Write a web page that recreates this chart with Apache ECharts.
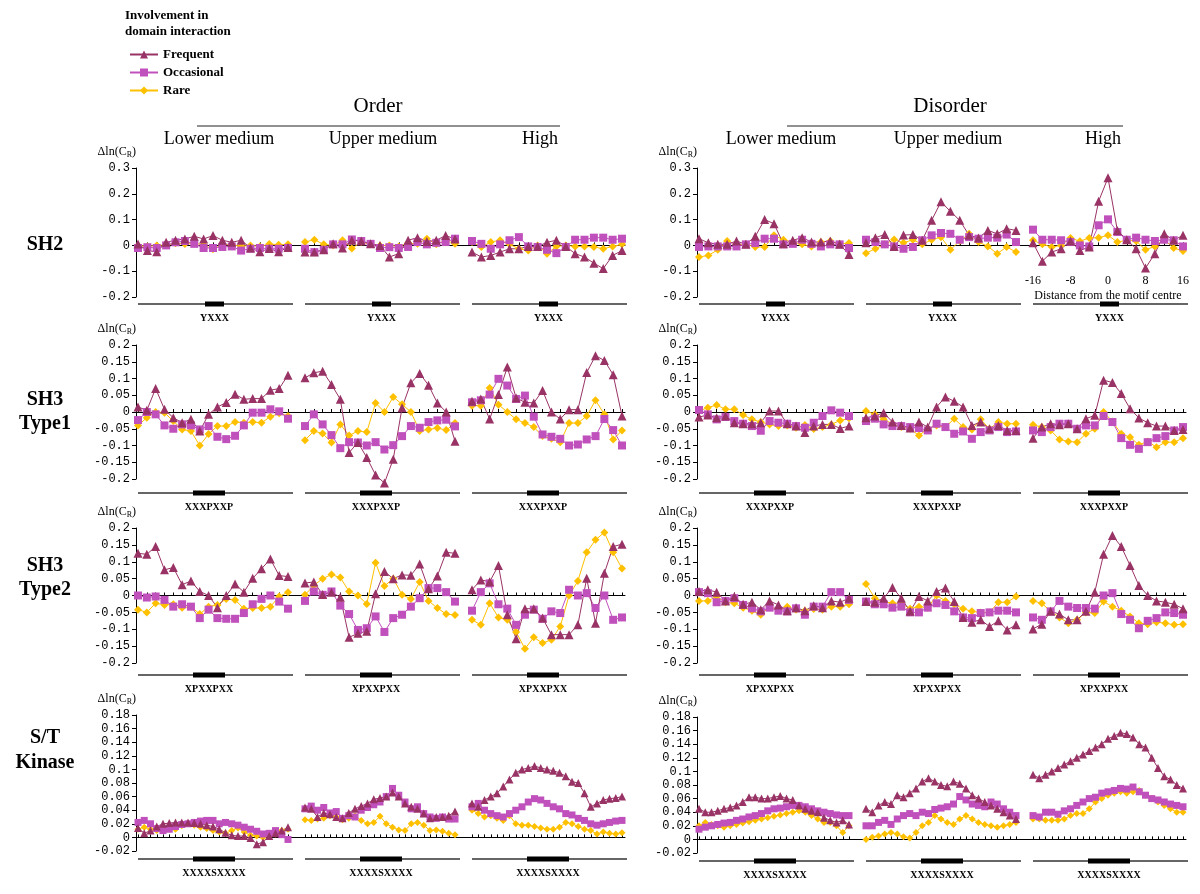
<!DOCTYPE html>
<html>
<head>
<meta charset="utf-8">
<script src="https://cdn.jsdelivr.net/npm/echarts@6/dist/echarts.min.js"></script>
<style>
  html, body { margin: 0; padding: 0; background: #fff; }
  #chart { width: 1200px; height: 894px; }
</style>
</head>
<body>
<div id="chart"></div>
<script>
"use strict";

//
// data
//

// distance from the motif centre, one entry per point
const pos_sh2 = [-16, -14, -12, -10, -8, -6, -4, -2, 0, 2, 4, 6, 8, 10, 12, 14, 16];
const pos_sh3 = [-17, -15, -13, -11, -9, -7, -5, -3, -1, 1, 3, 5, 7, 9, 11, 13, 15, 17];
const pos_kin = [-24, -22, -20, -18, -16, -14, -12, -10, -8, -6, -4, -2, 0, 2, 4, 6, 8, 10, 12, 14, 16, 18, 20, 22, 24];

const series_names = ["Frequent", "Occasional", "Rare"];
const group_titles = ["Order", "Disorder"];
const level_titles = ["Lower medium", "Upper medium", "High"];
const row_titles = [["SH2"], ["SH3", "Type1"], ["SH3", "Type2"], ["S/T", "Kinase"]];
const motifs = ["YXXX", "XXXPXXP", "XPXXPXX", "XXXXSXXXX"];
// y axis: min, max, step
const y_ranges = [[-0.2, 0.3, 0.1], [-0.2, 0.2, 0.05], [-0.2, 0.2, 0.05], [-0.02, 0.18, 0.02]];

// each panel: [frequent, occasional, rare]
const sh2_ord_low = [
  [0.005, -0.02, -0.025, 0.012, 0.02, 0.025, 0.035, 0.025, 0.038, 0.02, 0.012, 0.02, -0.01, -0.025, -0.012, -0.025, -0.008],
  [-0.01, -0.007, -0.01, 0, 0.012, 0.017, 0.006, -0.01, -0.01, -0.006, -0.004, -0.02, -0.013, -0.01, -0.013, -0.013, -0.01],
  [0, -0.004, 0, 0.002, 0.008, 0.005, 0.008, 0.003, -0.015, 0.004, 0.002, -0.003, 0, -0.004, 0.005, 0.003, 0.004],
];
const sh2_ord_up = [
  [-0.026, -0.026, -0.017, 0.006, -0.01, 0.02, 0.017, 0.006, 0, -0.045, -0.032, 0.02, 0.03, 0.015, 0.02, 0.038, 0.025],
  [-0.013, -0.026, -0.017, 0.004, 0.004, 0.023, 0.017, 0.006, -0.01, -0.007, -0.01, -0.006, 0.013, 0.004, 0.01, 0.013, 0.026],
  [0.013, 0.022, 0.004, 0, 0.02, -0.012, 0.013, 0.004, 0, 0, -0.004, 0.009, 0.006, 0.026, 0.004, 0.02, 0.006],
];
const sh2_ord_high = [
  [-0.026, -0.045, -0.039, -0.026, -0.013, -0.013, -0.004, -0.004, 0.012, 0.02, -0.004, -0.032, -0.045, -0.069, -0.09, -0.039, -0.02],
  [0.017, 0.006, -0.013, 0.004, 0.02, 0.032, -0.004, -0.006, -0.017, -0.03, -0.006, 0.022, 0.022, 0.03, 0.03, 0.022, 0.026],
  [0.013, -0.006, 0.013, 0.02, 0.004, -0.013, -0.02, 0, -0.032, -0.004, 0, -0.004, -0.004, -0.006, -0.013, -0.004, 0.004],
];
const sh2_dis_low = [
  [0.026, 0.01, 0.004, 0.004, 0.017, 0.004, 0.035, 0.1, 0.084, 0.006, 0.02, 0.03, 0.013, 0.013, 0.017, 0.004, -0.035],
  [-0.006, -0.004, -0.004, -0.004, -0.004, 0.004, 0.009, 0.026, 0.026, 0.004, 0.006, 0.022, 0.006, -0.004, 0.004, 0.004, -0.01],
  [-0.045, -0.039, -0.017, 0.017, 0.004, 0.004, -0.006, -0.006, 0.039, 0.022, 0.013, 0.004, -0.004, 0.013, 0.017, 0.006, 0.009],
];
const sh2_dis_up = [
  [0.01, 0.03, 0.042, -0.004, 0.04, 0.042, 0.02, 0.097, 0.169, 0.132, 0.097, 0.039, 0.029, 0.058, 0.045, 0.065, 0.058],
  [0.022, 0.013, 0.004, -0.004, -0.013, -0.006, 0.02, 0.039, 0.048, 0.045, 0.022, 0.032, 0.026, 0.03, 0.03, 0.042, 0.013],
  [-0.03, -0.013, 0.004, 0.023, 0.01, 0.022, 0.004, 0.022, 0.032, -0.017, 0.017, 0.045, 0.013, -0.004, -0.032, -0.006, -0.026],
];
const sh2_dis_high = [
  [0.01, -0.061, -0.026, -0.013, 0.017, -0.02, -0.006, 0.171, 0.262, 0.058, 0.022, -0.013, -0.088, -0.032, 0.045, 0.02, 0.039],
  [0.061, 0.022, 0.022, 0.02, 0.013, 0, -0.004, 0.078, 0.101, 0.052, 0.022, 0.03, 0.022, 0.017, 0.022, 0.02, -0.004],
  [0.02, 0.004, -0.006, 0, 0.029, 0.016, 0.029, 0.03, 0.039, 0.013, 0.02, 0.017, -0.017, -0.004, 0.022, -0.01, -0.022],
];

const t1_ord_low = [
  [0.015, 0.005, 0.07, 0.008, -0.017, -0.032, -0.022, -0.057, -0.007, 0.015, 0.028, 0.053, 0.038, 0.04, 0.04, 0.065, 0.07, 0.11],
  [-0.024, 0, -0.007, -0.04, -0.05, -0.037, -0.04, -0.052, -0.042, -0.074, -0.081, -0.071, -0.04, -0.002, -0.002, 0.008, 0.002, -0.02],
  [-0.04, -0.017, 0, -0.002, -0.027, -0.052, -0.057, -0.1, -0.066, -0.042, -0.042, -0.03, -0.032, -0.03, -0.032, -0.014, -0.004, -0.012],
];
const t1_ord_up = [
  [0.102, 0.117, 0.122, 0.082, 0.038, -0.121, -0.091, -0.136, -0.188, -0.212, -0.141, 0.013, 0.087, 0.115, 0.08, 0.027, 0, -0.087],
  [-0.042, -0.007, -0.037, -0.069, -0.108, -0.09, -0.091, -0.1, -0.09, -0.112, -0.099, -0.072, -0.042, -0.047, -0.03, -0.025, -0.023, -0.043],
  [-0.084, -0.057, -0.064, -0.091, -0.037, -0.07, -0.057, -0.06, 0.027, 0, 0.045, 0.023, 0, -0.057, -0.052, -0.048, -0.054, -0.033],
];
const t1_ord_high = [
  [0.032, 0.039, -0.021, 0.052, 0.134, 0.042, 0.029, 0.027, 0.064, 0, -0.021, 0.007, 0.007, 0.118, 0.168, 0.154, 0.111, -0.012],
  [0.029, 0.035, 0.052, 0.099, 0.079, 0.039, 0.049, -0.014, -0.067, -0.074, -0.08, -0.1, -0.097, -0.082, -0.072, -0.021, -0.054, -0.1],
  [0.019, 0.019, 0.072, 0.022, 0, -0.022, -0.033, -0.045, -0.072, -0.08, -0.09, -0.033, -0.033, -0.012, 0.035, -0.007, -0.082, -0.055],
];
const t1_dis_low = [
  [-0.015, -0.009, -0.017, -0.012, -0.032, -0.035, -0.035, -0.032, 0.003, 0.003, -0.035, -0.042, -0.061, -0.042, -0.037, -0.037, -0.049, -0.042],
  [0.006, -0.007, -0.022, -0.015, -0.027, -0.035, -0.042, -0.056, -0.027, -0.032, -0.035, -0.042, -0.047, -0.032, -0.012, 0.005, -0.002, -0.012],
  [0.003, 0.013, 0.021, 0.008, 0.008, -0.009, -0.022, -0.03, -0.037, -0.042, -0.04, -0.047, -0.039, -0.051, -0.045, -0.037, -0.025, -0.019],
];
const t1_dis_up = [
  [-0.017, -0.012, -0.002, -0.03, -0.04, -0.048, -0.03, -0.045, 0.015, 0.045, 0.032, 0.015, -0.04, -0.03, -0.05, -0.04, -0.055, -0.055],
  [-0.027, -0.02, -0.037, -0.042, -0.042, -0.045, -0.048, -0.055, -0.035, -0.045, -0.065, -0.058, -0.08, -0.06, -0.055, -0.045, -0.06, -0.058],
  [0.003, -0.007, -0.022, -0.035, -0.045, -0.05, -0.07, -0.05, -0.04, -0.045, -0.02, -0.045, -0.052, -0.022, -0.05, -0.03, -0.035, -0.035],
];
const t1_dis_high = [
  [-0.078, -0.045, -0.035, -0.038, -0.035, -0.05, -0.02, -0.01, 0.095, 0.088, 0.055, 0.01, -0.018, -0.032, -0.042, -0.042, -0.055, -0.052],
  [-0.055, -0.06, -0.045, -0.035, -0.035, -0.05, -0.04, -0.04, -0.012, -0.03, -0.078, -0.098, -0.11, -0.09, -0.078, -0.072, -0.055, -0.045],
  [-0.038, -0.045, -0.055, -0.082, -0.088, -0.09, -0.065, -0.05, 0, -0.028, -0.065, -0.075, -0.098, -0.088, -0.105, -0.09, -0.09, -0.078],
];

const t2_ord_low = [
  [0.125, 0.122, 0.145, 0.076, 0.083, 0.032, 0.043, 0.012, 0, -0.036, 0, 0.034, 0.01, 0.051, 0.079, 0.108, 0.059, 0.056],
  [0, -0.006, -0.003, -0.013, -0.033, -0.026, -0.033, -0.067, -0.042, -0.067, -0.069, -0.069, -0.052, -0.026, -0.01, 0, -0.018, -0.039],
  [-0.042, -0.05, -0.023, -0.028, -0.026, -0.036, -0.033, -0.055, -0.033, -0.028, -0.01, -0.013, -0.039, -0.037, -0.037, -0.033, -0.003, 0.01],
];
const t2_ord_up = [
  [0.037, 0.04, 0.003, 0.01, -0.005, -0.124, -0.112, -0.106, 0.005, 0.071, 0.05, 0.061, 0.06, 0.093, 0.02, 0.058, 0.128, 0.125],
  [-0.016, 0.012, 0.002, 0.012, -0.03, -0.055, -0.102, -0.097, -0.062, -0.108, -0.067, -0.057, -0.033, -0.008, 0.022, 0.022, 0.01, -0.018],
  [0.002, 0.03, 0.05, 0.062, 0.053, 0.012, 0, -0.025, 0.097, 0.028, 0.05, 0.002, -0.01, 0.04, -0.016, -0.037, -0.055, -0.058],
];
const t2_ord_high = [
  [0.017, 0.046, 0.041, 0.089, -0.057, -0.128, -0.039, -0.039, -0.067, -0.116, -0.116, -0.116, -0.087, 0.051, -0.082, 0.066, 0.145, 0.152],
  [-0.045, 0.01, 0.036, -0.026, -0.039, -0.087, -0.057, -0.042, -0.069, -0.047, -0.052, 0.017, 0, 0.007, -0.037, 0, -0.072, -0.065],
  [-0.072, -0.087, -0.023, -0.065, -0.072, -0.108, -0.158, -0.124, -0.141, -0.131, -0.092, 0, 0.043, 0.128, 0.165, 0.187, 0.128, 0.08],
];
const t2_dis_low = [
  [0.012, 0.017, 0.01, -0.016, -0.003, -0.026, -0.02, -0.042, -0.016, -0.028, -0.045, -0.036, -0.045, -0.03, -0.036, -0.016, -0.02, -0.008],
  [0.01, 0.007, -0.02, -0.016, -0.008, -0.028, -0.038, -0.047, -0.036, -0.045, -0.047, -0.038, -0.057, -0.033, -0.033, 0.01, 0.01, -0.013],
  [-0.016, -0.016, -0.003, -0.02, -0.023, -0.036, -0.045, -0.057, -0.033, -0.042, -0.033, -0.042, -0.045, -0.04, -0.042, -0.033, -0.033, -0.026],
];
const t2_dis_up = [
  [-0.018, -0.02, -0.008, 0.024, -0.008, -0.047, -0.003, -0.016, 0.012, 0.022, -0.018, -0.065, -0.079, -0.072, -0.092, -0.075, -0.102, -0.087],
  [-0.018, -0.026, -0.026, -0.036, -0.033, -0.05, -0.05, -0.036, -0.023, -0.028, -0.047, -0.065, -0.067, -0.052, -0.05, -0.045, -0.045, -0.05],
  [0.034, -0.008, -0.018, -0.023, -0.023, -0.039, -0.033, -0.036, 0, -0.016, -0.026, -0.039, -0.047, -0.05, -0.05, -0.02, -0.02, -0.003],
];
const t2_dis_high = [
  [-0.099, -0.085, -0.047, -0.055, -0.072, -0.072, -0.047, 0.01, 0.122, 0.178, 0.145, 0.089, 0.03, 0, -0.016, -0.02, -0.026, -0.039],
  [-0.065, -0.072, -0.047, -0.016, -0.033, -0.037, -0.037, -0.039, 0, 0.007, -0.055, -0.072, -0.097, -0.075, -0.067, -0.05, -0.052, -0.057],
  [-0.016, -0.023, -0.047, -0.065, -0.082, -0.072, -0.05, -0.052, -0.018, -0.033, -0.045, -0.062, -0.082, -0.085, -0.079, -0.082, -0.087, -0.085],
];

const kin_ord_low = [
  [0.014, 0.006, 0.01, 0.016, 0.02, 0.021, 0.022, 0.022, 0.022, 0.021, 0.02, 0.018, 0.016, 0.012, 0.007, 0.003, 0.002, 0.002, -0.001, -0.01, -0.007, 0.002, 0.006, 0.01, 0.015],
  [0.022, 0.025, 0.02, 0.013, 0.01, 0.012, 0.016, 0.019, 0.02, 0.022, 0.024, 0.025, 0.025, 0.02, 0.022, 0.02, 0.018, 0.015, 0.012, 0.009, 0.005, 0.006, 0.01, 0.004, -0.003],
  [0.012, 0.015, 0.012, 0.01, 0.014, 0.016, 0.012, 0.017, 0.02, 0.018, 0.015, 0.013, 0.01, 0.008, 0.006, 0.01, 0.014, 0.008, 0.003, 0.002, 0, 0.002, 0.005, 0.01, 0.012],
];
const kin_ord_up = [
  [0.044, 0.042, 0.03, 0.036, 0.034, 0.03, 0.028, 0.036, 0.042, 0.046, 0.05, 0.056, 0.058, 0.06, 0.066, 0.06, 0.05, 0.045, 0.042, 0.035, 0.028, 0.03, 0.03, 0.032, 0.038],
  [0.042, 0.046, 0.04, 0.044, 0.036, 0.038, 0.028, 0.032, 0.03, 0.04, 0.044, 0.048, 0.052, 0.06, 0.072, 0.062, 0.052, 0.042, 0.045, 0.035, 0.03, 0.028, 0.03, 0.027, 0.027],
  [0.026, 0.025, 0.027, 0.028, 0.032, 0.03, 0.026, 0.028, 0.032, 0.025, 0.02, 0.022, 0.031, 0.02, 0.015, 0.011, 0.01, 0.02, 0.022, 0.018, 0.01, 0.011, 0.009, 0.006, 0.004],
];
const kin_ord_high = [
  [0.05, 0.045, 0.055, 0.06, 0.065, 0.075, 0.085, 0.095, 0.1, 0.102, 0.105, 0.102, 0.1, 0.098, 0.095, 0.09, 0.082, 0.08, 0.065, 0.045, 0.05, 0.055, 0.057, 0.058, 0.06],
  [0.045, 0.05, 0.04, 0.035, 0.032, 0.03, 0.035, 0.04, 0.045, 0.052, 0.057, 0.055, 0.05, 0.045, 0.042, 0.035, 0.033, 0.028, 0.025, 0.02, 0.018, 0.02, 0.022, 0.024, 0.025],
  [0.04, 0.035, 0.03, 0.032, 0.028, 0.025, 0.032, 0.02, 0.018, 0.018, 0.016, 0.014, 0.012, 0.012, 0.015, 0.022, 0.02, 0.016, 0.012, 0.01, 0.005, 0.008, 0.006, 0.005, 0.007],
];
const kin_dis_low = [
  [0.045, 0.04, 0.04, 0.042, 0.045, 0.047, 0.05, 0.055, 0.062, 0.062, 0.06, 0.06, 0.062, 0.064, 0.06, 0.058, 0.05, 0.045, 0.042, 0.04, 0.032, 0.028, 0.025, 0.028, 0.022],
  [0.015, 0.018, 0.02, 0.022, 0.024, 0.025, 0.028, 0.03, 0.033, 0.035, 0.038, 0.042, 0.045, 0.046, 0.048, 0.05, 0.05, 0.048, 0.045, 0.042, 0.04, 0.038, 0.036, 0.035, 0.035],
  [0.02, 0.025, 0.022, 0.02, 0.018, 0.02, 0.022, 0.024, 0.026, 0.028, 0.03, 0.032, 0.034, 0.036, 0.038, 0.04, 0.042, 0.04, 0.035, 0.03, 0.025, 0.025, 0.02, 0.01, 0.02],
];
const kin_dis_up = [
  [0.045, 0.04, 0.05, 0.055, 0.052, 0.065, 0.062, 0.068, 0.075, 0.085, 0.09, 0.085, 0.08, 0.078, 0.085, 0.082, 0.075, 0.065, 0.06, 0.055, 0.05, 0.045, 0.04, 0.035, 0.03],
  [0.02, 0.02, 0.025, 0.028, 0.022, 0.03, 0.035, 0.038, 0.035, 0.04, 0.038, 0.044, 0.046, 0.048, 0.052, 0.063, 0.058, 0.052, 0.05, 0.048, 0.055, 0.052, 0.045, 0.04, 0.035],
  [0, 0.003, 0.005, 0.008, 0.01, 0.008, 0.004, 0.002, 0.01, 0.02, 0.025, 0.035, 0.03, 0.025, 0.022, 0.03, 0.035, 0.03, 0.025, 0.022, 0.02, 0.018, 0.02, 0.022, 0.025],
];
const kin_dis_high = [
  [0.095, 0.09, 0.095, 0.1, 0.105, 0.11, 0.115, 0.12, 0.125, 0.13, 0.135, 0.14, 0.148, 0.152, 0.157, 0.155, 0.15, 0.14, 0.135, 0.12, 0.105, 0.093, 0.088, 0.08, 0.075],
  [0.035, 0.033, 0.04, 0.04, 0.037, 0.042, 0.045, 0.05, 0.055, 0.06, 0.062, 0.068, 0.07, 0.072, 0.075, 0.074, 0.077, 0.07, 0.065, 0.06, 0.058, 0.055, 0.052, 0.05, 0.048],
  [0.03, 0.03, 0.028, 0.028, 0.028, 0.03, 0.035, 0.038, 0.038, 0.045, 0.055, 0.06, 0.065, 0.068, 0.07, 0.068, 0.07, 0.072, 0.065, 0.06, 0.055, 0.05, 0.045, 0.04, 0.04],
];

// row -> group -> level
const row_positions = [pos_sh2, pos_sh3, pos_sh3, pos_kin];
const row_data = [
  [[sh2_ord_low, sh2_ord_up, sh2_ord_high], [sh2_dis_low, sh2_dis_up, sh2_dis_high]],
  [[t1_ord_low, t1_ord_up, t1_ord_high], [t1_dis_low, t1_dis_up, t1_dis_high]],
  [[t2_ord_low, t2_ord_up, t2_ord_high], [t2_dis_low, t2_dis_up, t2_dis_high]],
  [[kin_ord_low, kin_ord_up, kin_ord_high], [kin_dis_low, kin_dis_up, kin_dis_high]],
];

//
// layout
//

const SERIF = "'Liberation Serif', 'Times New Roman', serif";
const MONO = "'Liberation Mono', 'Courier New', monospace";
const colors = ["#993366", "#C050BC", "#FFC000"];
const symbols = ["triangle", "rect", "diamond"];

const axis_x = [136, 697]; // y axis position of each group
const panel_dx = [2, 169, 336]; // panel offset from the y axis
const panel_w = 150;
const row_w = 489;
// [top, bottom] of the plot area, per row and group
const row_box = [
  [[168, 297], [168, 297]],
  [[345, 479], [345, 479]],
  [[528, 663], [528, 663]],
  [[715, 851], [717, 853]],
];
const motif_y = [[304, 304], [493, 493], [675, 675], [859, 861]];
const motif_bar = [[67, 86], [55, 87], [55, 87], [55, 97]]; // px from panel start
const label_x = [45, 45, 45, 45];
const row_label_y = [[245], [400, 424], [566, 590], [738, 763]];
const level_x = [[219, 383, 540], [781, 948, 1103]];

const grid = [];
const xAxis = [];
const yAxis = [];
const series = [];
const graphic = [];

function add_grid(box, x_cfg, y_cfg) {
  const i = grid.length;
  grid.push(box);
  xAxis.push(Object.assign({ gridIndex: i }, x_cfg));
  yAxis.push(Object.assign({ gridIndex: i }, y_cfg));
  return i;
}

function text(x, y, str, size, weight, align) {
  return {
    type: "text",
    x: x,
    y: y,
    silent: true,
    style: {
      text: str,
      fontFamily: SERIF,
      fontSize: size,
      fontWeight: weight || "normal",
      fill: "#000",
      align: align || "center",
      textAlign: align || "center",
      verticalAlign: "middle",
      textVerticalAlign: "middle",
    },
  };
}

for (let r = 0; r < 4; r++) {
  const [y_min, y_max, y_step] = y_ranges[r];
  for (let g = 0; g < 2; g++) {
    const [top, bottom] = row_box[r][g];
    const height = bottom - top;

    // whole row: y axis and zero line
    add_grid(
      { left: axis_x[g], top: top, width: row_w, height: height },
      {
        type: "value",
        min: 0,
        max: 1,
        axisLine: { onZero: true, lineStyle: { color: "#000", width: 1 } },
        axisTick: { show: false },
        axisLabel: { show: false },
        splitLine: { show: false },
      },
      {
        type: "value",
        min: y_min,
        max: y_max,
        interval: y_step,
        name: "Δln(C{s|R})",
        nameLocation: "end",
        nameGap: 9,
        nameTextStyle: {
          fontFamily: SERIF,
          fontSize: 12,
          color: "#000",
          align: "right",
          rich: { s: { fontFamily: SERIF, fontSize: 8, color: "#000", padding: [6, 0, 0, 0] } },
        },
        axisLine: { show: true, lineStyle: { color: "#000", width: 1 } },
        axisTick: { show: true, length: 4, lineStyle: { color: "#000" } },
        axisLabel: { fontFamily: MONO, fontSize: 12, color: "#000", margin: 6 },
        splitLine: { show: false },
      }
    );

    for (let p = 0; p < 3; p++) {
      const left = axis_x[g] + panel_dx[p];
      const idx = add_grid(
        { left: left, top: top, width: panel_w, height: height },
        {
          type: "category",
          data: row_positions[r],
          boundaryGap: false,
          axisLine: { onZero: true, lineStyle: { color: "#000", width: 1 } },
          axisTick: { show: true, inside: true, length: 3, interval: 0, lineStyle: { color: "#000" } },
          axisLabel: { show: false, interval: 0 },
          splitLine: { show: false },
        },
        { type: "value", min: y_min, max: y_max, interval: y_step, show: false }
      );

      const d = row_data[r][g][p];
      const sizes = r === 3 ? [8, 7, 7] : [9, 8, 8];
      for (let s = 2; s >= 0; s--) {
        series.push({
          name: series_names[s],
          type: "line",
          xAxisIndex: idx,
          yAxisIndex: idx,
          data: d[s],
          symbol: symbols[s],
          symbolSize: sizes[s],
          showSymbol: true,
          showAllSymbol: true,
          clip: false,
          color: colors[s],
          lineStyle: { color: colors[s], width: 1 },
          itemStyle: { color: colors[s], opacity: 1 },
          emphasis: { disabled: true },
          animation: false,
        });
      }

      // motif line with bar and motif label
      const my = motif_y[r][g];
      const bar = motif_bar[r];
      graphic.push({
        type: "line",
        silent: true,
        shape: { x1: left, y1: my, x2: left + 155, y2: my },
        style: { stroke: "#333", lineWidth: 1.5 },
      });
      graphic.push({
        type: "rect",
        silent: true,
        shape: { x: left + bar[0], y: my - 2.5, width: bar[1] - bar[0], height: 5 },
        style: { fill: "#000" },
      });
      graphic.push(text(left + (bar[0] + bar[1]) / 2, my + 14, motifs[r], 10, "bold"));
    }
  }
}

// distance labels under the SH2 / disorder / high panel
add_grid(
  { left: axis_x[1] + panel_dx[2], top: 230, width: panel_w, height: 41 },
  {
    type: "category",
    data: pos_sh2,
    boundaryGap: false,
    axisLine: { show: false },
    axisTick: { show: false },
    axisLabel: { interval: 3, fontFamily: SERIF, fontSize: 12, color: "#000", margin: 4 },
    name: "Distance from the motif centre",
    nameLocation: "middle",
    nameGap: 19,
    nameTextStyle: { fontFamily: SERIF, fontSize: 12, color: "#000" },
  },
  { type: "value", show: false }
);

// headers
for (let g = 0; g < 2; g++) {
  graphic.push(text(g === 0 ? 378 : 950, 106, group_titles[g], 21));
  for (let p = 0; p < 3; p++) {
    graphic.push(text(level_x[g][p], 139, level_titles[p], 18));
  }
}
graphic.push({ type: "line", silent: true, shape: { x1: 197, y1: 126, x2: 560, y2: 126 }, style: { stroke: "#222", lineWidth: 1 } });
graphic.push({ type: "line", silent: true, shape: { x1: 787, y1: 126, x2: 1123, y2: 126 }, style: { stroke: "#222", lineWidth: 1 } });

// row labels
for (let r = 0; r < 4; r++) {
  row_titles[r].forEach(function (t, k) {
    graphic.push(text(label_x[r], row_label_y[r][k], t, 20, "bold"));
  });
}

// legend title
graphic.push({
  type: "text",
  x: 125,
  y: 8,
  silent: true,
  style: {
    text: "Involvement in\ndomain interaction",
    fontFamily: SERIF,
    fontSize: 13,
    fontWeight: "bold",
    lineHeight: 16,
    fill: "#000",
  },
});

const chart = echarts.init(document.getElementById("chart"));
chart.setOption({
  animation: false,
  backgroundColor: "#fff",
  legend: {
    data: series_names,
    orient: "vertical",
    left: 124,
    top: 43,
    itemGap: 5,
    itemWidth: 28,
    itemHeight: 10,
    selectedMode: false,
    textStyle: { fontFamily: SERIF, fontSize: 13, fontWeight: "bold", color: "#000" },
  },
  grid: grid,
  xAxis: xAxis,
  yAxis: yAxis,
  series: series,
  graphic: graphic,
});
</script>
</body>
</html>
